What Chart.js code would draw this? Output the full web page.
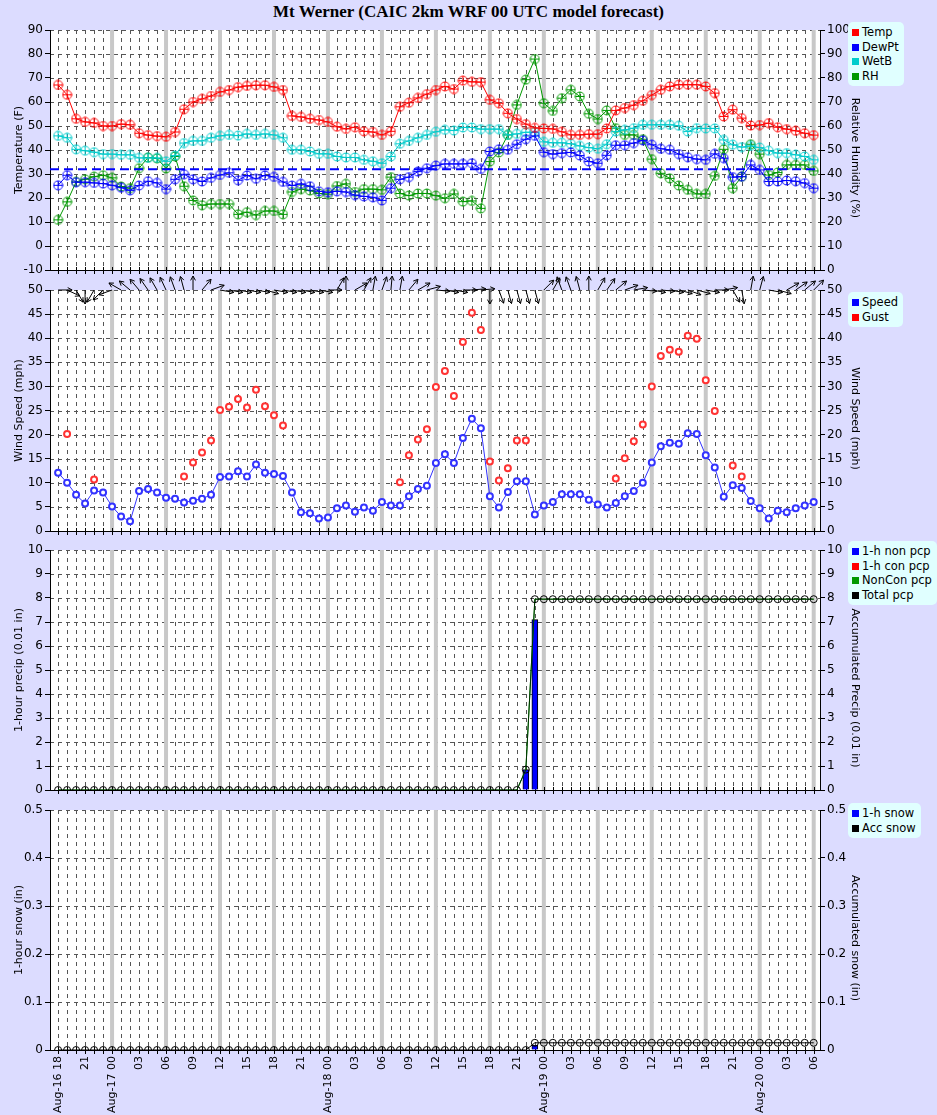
<!DOCTYPE html>
<html><head><meta charset="utf-8">
<script src="https://cdn.jsdelivr.net/npm/chart.js@4.4.1/dist/chart.umd.min.js"></script>
<style>
body{margin:0;background:#dcdcff;width:937px;height:1115px;position:relative;overflow:hidden;font-family:"DejaVu Sans",sans-serif}
canvas{position:absolute;left:0}
#title{position:absolute;top:2px;width:937px;text-align:center;font:bold 17px "Liberation Serif",serif}
.leg{position:absolute;left:848px;background:#e0ffff;border-radius:5px;padding:3px 5px 3px 4px;font:11.5px "DejaVu Sans",sans-serif;line-height:14.5px;white-space:nowrap}
.leg span{display:inline-block;width:7px;height:7px;margin-right:3px}
</style></head><body>
<div id="title">Mt Werner (CAIC 2km WRF 00 UTC model forecast)</div>
<canvas id="c1" width="937" height="282" style="top:0"></canvas>
<canvas id="c2" width="937" height="276" style="top:265px"></canvas>
<canvas id="c3" width="937" height="260" style="top:540px"></canvas>
<canvas id="c4" width="937" height="315" style="top:800px"></canvas>
<div class="leg" style="top:22px"><span style="background:#f00"></span>Temp<br><span style="background:#00f"></span>DewPt<br><span style="background:#0cc"></span>WetB<br><span style="background:#090"></span>RH</div>
<div class="leg" style="top:292px"><span style="background:#00f"></span>Speed<br><span style="background:#f00"></span>Gust</div>
<div class="leg" style="top:541px"><span style="background:#00f"></span>1-h non pcp<br><span style="background:#f00"></span>1-h con pcp<br><span style="background:#090"></span>NonCon pcp<br><span style="background:#000"></span>Total pcp</div>
<div class="leg" style="top:803px"><span style="background:#00f"></span>1-h snow<br><span style="background:#000"></span>Acc snow</div>
<script>
const N=null;
const hourLabels=['Aug-16 18','21','Aug-17 00','03','06','09','12','15','18','21','Aug-18 00','03','06','09','12','15','18','21','Aug-19 00','03','06','09','12','15','18','21','Aug-20 00','03','06'];
const temp=[67.1,63,53,51.7,51.3,50,50,50.8,50.5,47,46.2,45.8,45.5,47.5,57,60,61.3,62.5,64.2,65,66.2,66.7,67,67,66.3,65,54.2,53.8,53,52.5,51.7,49.7,48.8,49.5,47.8,47.5,46.3,47.8,58,59.7,61.7,63.3,65,
66.5,65.4,68.9,68.4,68.3,60.9,59.5,55.3,52.9,50.8,49.2,49,48.8,47.6,46.3,46.3,46.6,46.6,49,56.5,57.5,58.7,60.5,62.9,65.1,66.5,67.2,67.2,67.2,66.5,63.7,54,56.8,53.3,50.2,50.4,51.2,49.5,48.7,48,47,46.2];
const dewpt=[25.3,29.5,26.6,26.6,26.3,26,25.3,24.3,23.2,25.2,27,26.3,23.7,27.8,29.9,27.8,26.9,28.4,29.6,30.5,27.4,29.4,28,29.4,28.8,26.7,25.2,25.9,24.9,22.8,22.4,22.8,22.5,21.2,20.7,20.3,19,24.1,27.8,28.7,31,32.4,33.5,
34.2,34.2,34.2,34.5,32.1,39.4,40.3,40.1,42.4,44.5,45.9,39.1,38.3,38.7,39,37.7,35.2,34.5,37.8,42,42,42.9,44,42.2,40.5,40.1,38.3,37,36.2,35.9,38.4,36.6,28.7,28.9,33.8,31.7,26.9,26.9,27.3,27,26.2,24.1];
const wetb=[45.9,45.1,40.3,39.7,39.1,38.3,38.3,38,38,36.7,36.7,36.7,35.3,37.7,42.9,43.8,43.8,45.1,45.9,46.3,46,46.7,46.3,46.7,46.3,45.1,40.1,40.1,39.4,38.4,38.4,37.3,36.9,36.9,35.9,35.3,34.5,37.3,42.6,43.8,45.1,46.3,47.6,
48.4,48.1,49.4,49.4,48.7,48.7,48.7,46.3,46.7,47.4,47.4,43.4,43,43,42.6,41.7,41,40.5,42.4,47.7,48.4,49.1,50.5,50.5,50.5,50.5,50.1,47.7,49.1,49,49,44.2,42.2,41.2,41.7,41,39.7,38.7,38.7,38,37.3,35.9];
const rh=[20.9,28.4,36.7,37.8,38.9,39.5,38.4,34.8,34.1,42.4,46.9,46.5,42.3,47.3,34.9,29,27,27.5,27.5,27.5,23.2,24.1,22.9,24.6,24.6,23.2,32.5,33.7,33.1,31.9,31.6,35,35.9,32.5,33.7,33.7,33.4,38.7,31.9,31,31.9,31.9,31,
29.9,31.7,28.5,28.8,25.7,45.2,49,56.3,68.8,79.3,87.9,69.5,66.3,71.6,75.1,72.3,65.1,62.9,66.5,59.1,56.3,56.3,54.5,46.2,40.3,38.2,35.2,33.4,31.7,31.7,39.2,50.3,34.1,38.9,52.4,48.3,39.6,40.6,43.8,43.8,43.8,41.3];
const speed=[12.1,10,7.5,5.7,8.4,8,5.1,3,2,8.3,8.7,8,6.9,6.7,5.9,6.3,6.7,7.5,11.2,11.3,12.4,11.3,13.8,12.1,11.8,11.4,8,3.9,3.7,2.6,2.8,4.7,5.3,4,4.9,4.2,6,5.3,5.3,7.2,8.7,9.4,14.1,
15.9,14.1,19.3,23.3,21.3,7.2,4.9,8.1,10.3,10.3,3.4,5.3,6,7.6,7.6,7.6,6.5,5.5,4.9,5.8,7.2,8.3,10,14.2,17.6,18.3,18.1,20.3,20.1,15.7,13.2,7.1,9.5,8.9,6.2,4.7,2.6,4.2,3.9,4.7,5.3,6];
const gust=[N,20.1,N,N,10.7,N,N,N,N,N,N,N,N,N,11.3,14.2,16.3,18.8,25.1,25.8,27.4,25.6,29.3,25.9,24,21.9,N,N,N,N,N,N,N,N,N,N,N,N,10.1,15.7,19,21.1,29.9,33.2,28,39.2,45.3,41.7,14.4,10.5,13,18.8,18.8,N,N,N,N,N,N,N,N,N,10.9,15.1,18.6,22.1,30,36.3,37.6,37.2,40.5,39.9,31.3,24.9,N,13.6,11.3,N,N,N,N,N,N,N,N];
const windDir=[90,115,150,180,210,225,250,300,310,320,325,330,335,340,345,0,40,70,100,100,100,100,100,105,100,100,100,100,100,100,90,30,0,60,30,10,20,5,10,40,60,75,95,100,100,90,85,85,180,160,165,165,165,165,45,30,340,340,345,0,30,35,50,70,80,95,100,95,100,105,110,105,100,90,80,150,170,10,15,100,105,60,55,50,45];
const precip1h=[0,0,0,0,0,0,0,0,0,0, 0,0,0,0,0,0,0,0,0,0, 0,0,0,0,0,0,0,0,0,0, 0,0,0,0,0,0,0,0,0,0, 0,0,0,0,0,0,0,0,0,0, 0,0,0.85,7.1,0,0,0,0,0,0, 0,0,0,0,0,0,0,0,0,0, 0,0,0,0,0,0,0,0,0,0, 0,0,0,0,0];
const precipTotal=[0,0,0,0,0,0,0,0,0,0, 0,0,0,0,0,0,0,0,0,0, 0,0,0,0,0,0,0,0,0,0, 0,0,0,0,0,0,0,0,0,0, 0,0,0,0,0,0,0,0,0,0, 0,0,0.85,7.95,7.95,7.95,7.95,7.95,7.95,7.95, 7.95,7.95,7.95,7.95,7.95,7.95,7.95,7.95,7.95,7.95, 7.95,7.95,7.95,7.95,7.95,7.95,7.95,7.95,7.95,7.95, 7.95,7.95,7.95,7.95,7.95];
const snow1h=[0,0,0,0,0,0,0,0,0,0, 0,0,0,0,0,0,0,0,0,0, 0,0,0,0,0,0,0,0,0,0, 0,0,0,0,0,0,0,0,0,0, 0,0,0,0,0,0,0,0,0,0, 0,0,0,0.01,0,0,0,0,0,0, 0,0,0,0,0,0,0,0,0,0, 0,0,0,0,0,0,0,0,0,0, 0,0,0,0,0];
const snowAcc=[0,0,0,0,0,0,0,0,0,0, 0,0,0,0,0,0,0,0,0,0, 0,0,0,0,0,0,0,0,0,0, 0,0,0,0,0,0,0,0,0,0, 0,0,0,0,0,0,0,0,0,0, 0,0,0,0.015,0.015,0.015,0.015,0.015,0.015,0.015, 0.015,0.015,0.015,0.015,0.015,0.015,0.015,0.015,0.015,0.015, 0.015,0.015,0.015,0.015,0.015,0.015,0.015,0.015,0.015,0.015, 0.015,0.015,0.015,0.015,0.015];

const xy=a=>a.map((v,i)=>({x:i,y:v}));
function ptImg(color){const c=document.createElement('canvas');c.width=11;c.height=11;const g=c.getContext('2d');
 g.strokeStyle=color;g.lineWidth=1;g.beginPath();g.arc(5.5,5.5,4.5,0,Math.PI*2);g.stroke();
 g.beginPath();g.moveTo(1,5.5);g.lineTo(10,5.5);g.moveTo(5.5,1);g.lineTo(5.5,10);g.stroke();return c;}
const F={family:'"DejaVu Sans",sans-serif',size:12};
const bg={id:'bg',beforeDraw(ch,a,o){const {ctx,chartArea:c,scales}=ch;const x=scales.x,y=scales.y;
 ctx.save();ctx.fillStyle='#fff';ctx.fillRect(c.left,c.top,c.right-c.left,c.bottom-c.top);
 ctx.lineWidth=1;ctx.strokeStyle='#555';ctx.setLineDash([4,4]);
 for(let i=0;i<=84;i++){if(i%6===0&&i>0)continue;const px=Math.round(x.getPixelForValue(i))+0.5;ctx.beginPath();ctx.moveTo(px,c.top);ctx.lineTo(px,c.bottom);ctx.stroke();}
 y.ticks.forEach(t=>{const py=Math.round(y.getPixelForValue(t.value))+0.5;ctx.beginPath();ctx.moveTo(c.left,py);ctx.lineTo(c.right,py);ctx.stroke();});
 ctx.setLineDash([]);ctx.strokeStyle='#c8c8c8';ctx.lineWidth=4;
 for(let i=6;i<=84;i+=6){const px=x.getPixelForValue(i);ctx.beginPath();ctx.moveTo(px,c.top);ctx.lineTo(px,c.bottom);ctx.stroke();}
 ctx.strokeStyle='#000';ctx.lineWidth=1;ctx.beginPath();ctx.moveTo(c.left,c.bottom+0.5);ctx.lineTo(c.right,c.bottom+0.5);ctx.stroke();
 for(let i=0;i<=84;i++){const px=Math.round(x.getPixelForValue(i))+0.5;ctx.beginPath();ctx.moveTo(px,c.bottom-3);ctx.lineTo(px,c.bottom+4);ctx.stroke();}
 ctx.fillStyle='#000';ctx.font='11px "DejaVu Sans",sans-serif';ctx.textAlign='center';
 if(o.lt){ctx.save();ctx.translate(22,(c.top+c.bottom)/2);ctx.rotate(-Math.PI/2);ctx.fillText(o.lt,0,0);ctx.restore();}
 if(o.rt){ctx.save();ctx.translate(852,(c.top+c.bottom)/2+(o.rdy||8));ctx.rotate(Math.PI/2);ctx.fillText(o.rt,0,0);ctx.restore();}
 ctx.restore();}};
const after={id:'after',afterDraw(ch,a,o){const {ctx,chartArea:c,scales}=ch;const x=scales.x;ctx.save();
 if(o.ref){const y=scales.y;const py=y.getPixelForValue(32);ctx.strokeStyle='#00f';ctx.lineWidth=2;ctx.setLineDash([9,5]);ctx.beginPath();ctx.moveTo(c.left,py);ctx.lineTo(c.right,py);ctx.stroke();ctx.setLineDash([]);}
 if(o.arrows){ctx.strokeStyle='#000';ctx.lineWidth=1;windDir.forEach((d,i)=>{const px=x.getPixelForValue(i),py=c.top;const r=d*Math.PI/180;const L=14;
  const ex=px+L*Math.sin(r),ey=py-L*Math.cos(r);ctx.beginPath();ctx.moveTo(px,py);ctx.lineTo(ex,ey);
  const a1=r+Math.PI-0.5,a2=r+Math.PI+0.5;ctx.moveTo(ex,ey);ctx.lineTo(ex+5*Math.sin(a1),ey-5*Math.cos(a1));ctx.moveTo(ex,ey);ctx.lineTo(ex+5*Math.sin(a2),ey-5*Math.cos(a2));ctx.stroke();});}
 if(o.labels){ctx.fillStyle='#000';ctx.font='11px "DejaVu Sans",sans-serif';ctx.textAlign='right';ctx.textBaseline='middle';
  hourLabels.forEach((l,k)=>{const px=x.getPixelForValue(k*3);ctx.save();ctx.translate(px,c.bottom+6);ctx.rotate(-Math.PI/2);ctx.fillText(l,0,0);ctx.restore();});}
 ctx.restore();}};
function xScale(h){return {type:'linear',offset:false,min:-0.9,max:84.7,afterFit:s=>{s.height=h},ticks:{display:false},grid:{display:false,offset:false},border:{display:false}};}
function yScale(pos,min,max,step,w){return {type:'linear',position:pos,min,max,afterFit:s=>{s.width=w},
 ticks:{stepSize:step,font:F,color:'#000',padding:2},grid:{drawOnChartArea:false,tickLength:5,color:'#000'},border:{color:'#000'}};}
function make(id,datasets,scs,pad,opts,type){return new Chart(document.getElementById(id),{type:type||'line',data:{datasets},
 options:{responsive:false,animation:false,layout:{padding:{top:pad,left:0,right:0,bottom:0}},plugins:{legend:{display:false},tooltip:{enabled:false},bg:opts,after:opts},scales:scs},plugins:[bg,after]});}
const ln=(d,c,extra)=>Object.assign({data:xy(d),borderColor:c,borderWidth:1,pointStyle:ptImg(c),pointRadius:5,fill:false,tension:0},extra||{});
make('c1',[ln(temp,'#f00'),ln(dewpt,'#00f'),ln(wetb,'#0cc'),ln(rh,'#090',{yAxisID:'y1'})],
 {x:xScale(12),y:yScale('left',-10,90,10,50),y1:yScale('right',0,100,10,117)},30,{lt:'Temperature (F)',rt:'Relative Humidity (%)',ref:true});
make('c2',[ln(speed,'#00f',{pointStyle:'circle',pointRadius:3,pointBorderWidth:2,pointBackgroundColor:'#fff',borderColor:'#33f'}),
 {data:xy(gust),showLine:false,pointStyle:'circle',pointRadius:3,pointBorderWidth:2,pointBorderColor:'#f33',pointBackgroundColor:'#fff'}],
 {x:xScale(10),y:yScale('left',0,50,5,50),y1:yScale('right',0,50,5,117)},25,{lt:'Wind Speed (mph)',rt:'Wind Speed (mph)',arrows:true});
make('c3',[{type:'bar',data:xy(precip1h),backgroundColor:'#00f',borderColor:'#000',borderWidth:1,barThickness:6,order:2},
 {type:'line',data:xy(precipTotal),borderColor:'#090',borderWidth:1,pointRadius:0,order:1},
 {type:'line',data:xy(precipTotal),borderColor:'#030',borderWidth:1,pointStyle:'circle',pointRadius:3.5,pointBorderColor:'#000',pointBackgroundColor:'rgba(0,0,0,0)',order:0}],
 {x:xScale(10),y:yScale('left',0,10,1,50),y1:yScale('right',0,10,1,117)},10,{lt:'1-hour precip (0.01 in)',rt:'Accumulated Precip (0.01 in)',rdy:18},'bar');
make('c4',[{type:'bar',data:xy(snow1h),backgroundColor:'#00f',borderColor:'#000',borderWidth:1,barThickness:6,order:2},
 {type:'line',data:xy(snowAcc),borderColor:'#000',borderWidth:1,pointStyle:'circle',pointRadius:3.5,pointBorderColor:'#000',pointBackgroundColor:'rgba(0,0,0,0)',order:0}],
 {x:xScale(65),y:yScale('left',0,0.5,0.1,50),y1:yScale('right',0,0.5,0.1,117)},10,{lt:'1-hour snow (in)',rt:'Accumulated snow (in)',labels:true},'bar');
</script></body></html>
